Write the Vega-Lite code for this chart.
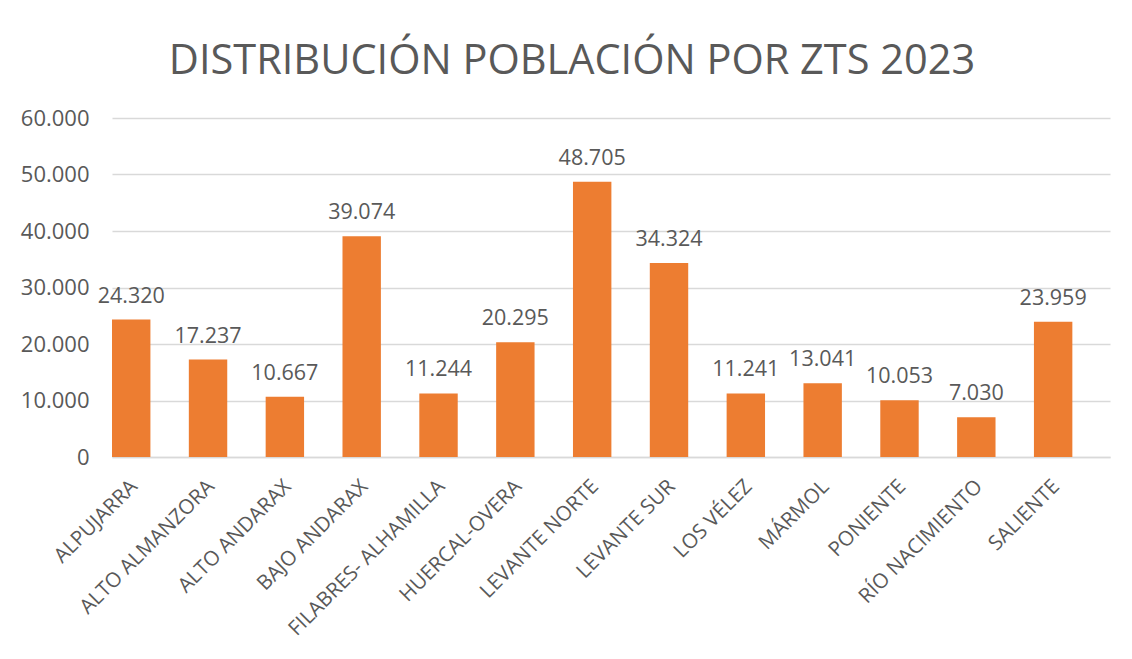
{
  "$schema": "https://vega.github.io/schema/vega-lite/v6.json",
  "width": 998,
  "height": 339,
  "autosize": {"type": "none"},
  "padding": {"left": 112, "top": 118, "right": 22, "bottom": 202},
  "background": "white",
  "config": {
    "locale": {"number": {"decimal": ",", "thousands": ".", "grouping": [3], "currency": ["", " €"]}},
    "font": "Open Sans",
    "view": {"stroke": null}
  },
  "title": {
    "text": "DISTRIBUCIÓN POBLACIÓN POR ZTS 2023",
    "font": "Open Sans",
    "fontSize": 41.5,
    "fontWeight": "normal",
    "color": "#595959",
    "anchor": "middle",
    "dx": -39,
    "offset": 25
  },
  "data": {
    "values": [
      {"zts": "ALPUJARRA", "poblacion": 24320},
      {"zts": "ALTO ALMANZORA", "poblacion": 17237},
      {"zts": "ALTO ANDARAX", "poblacion": 10667},
      {"zts": "BAJO ANDARAX", "poblacion": 39074},
      {"zts": "FILABRES- ALHAMILLA", "poblacion": 11244},
      {"zts": "HUERCAL-OVERA", "poblacion": 20295},
      {"zts": "LEVANTE NORTE", "poblacion": 48705},
      {"zts": "LEVANTE SUR", "poblacion": 34324},
      {"zts": "LOS VÉLEZ", "poblacion": 11241},
      {"zts": "MÁRMOL", "poblacion": 13041},
      {"zts": "PONIENTE", "poblacion": 10053},
      {"zts": "RÍO NACIMIENTO", "poblacion": 7030},
      {"zts": "SALIENTE", "poblacion": 23959}
    ]
  },
  "encoding": {
    "x": {
      "field": "zts",
      "type": "nominal",
      "sort": null,
      "scale": {"paddingInner": 0.5, "paddingOuter": 0.245, "align": 0},
      "axis": {
        "title": null,
        "labelAngle": -45,
        "labelAlign": "right",
        "labelBaseline": "top",
        "labelFontSize": 20.5,
        "labelColor": "#595959",
        "labelFont": "Open Sans",
        "ticks": false,
        "domain": true,
        "domainColor": "#d9d9d9",
        "domainWidth": 1.3,
        "labelPadding": 19,
        "labelOffset": -4,
        "labelLimit": 400
      }
    },
    "y": {
      "field": "poblacion",
      "type": "quantitative",
      "scale": {"domain": [0, 60000], "nice": false},
      "axis": {
        "title": null,
        "values": [0, 10000, 20000, 30000, 40000, 50000, 60000],
        "format": ",.0f",
        "labelFontSize": 22,
        "labelColor": "#595959",
        "labelFont": "Open Sans",
        "ticks": false,
        "domain": false,
        "gridColor": "#d9d9d9",
        "gridWidth": 1.3,
        "labelPadding": 23
      }
    }
  },
  "layer": [
    {"mark": {"type": "bar", "color": "#ED7D31"}},
    {
      "mark": {"type": "text", "baseline": "alphabetic", "dy": -17, "fontSize": 21.5, "color": "#595959", "font": "Open Sans"},
      "encoding": {"text": {"field": "poblacion", "type": "quantitative", "format": ",.0f"}}
    }
  ]
}
